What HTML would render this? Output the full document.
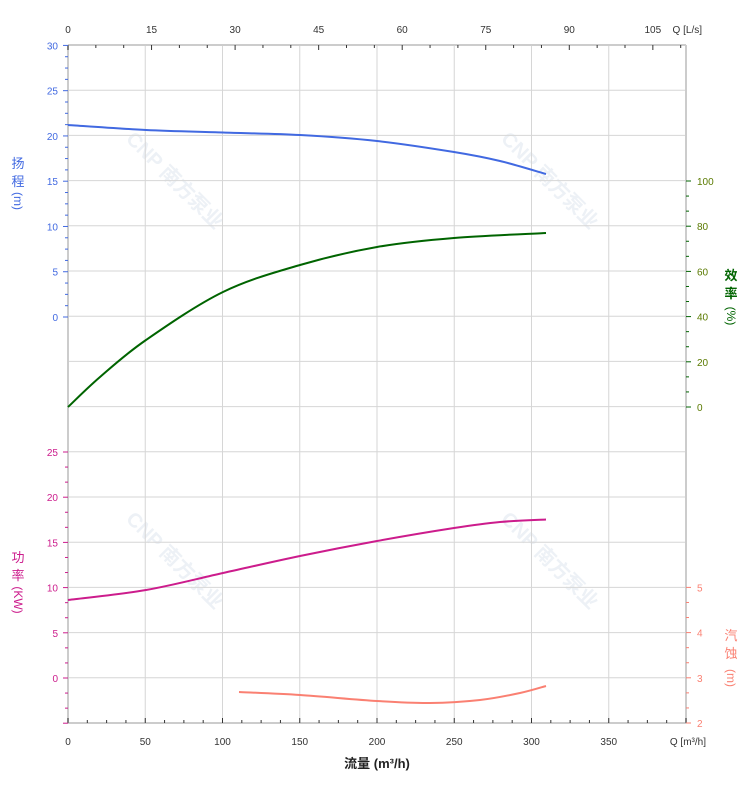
<!DOCTYPE html>
<html><head><meta charset="utf-8">
<style>
html,body{margin:0;padding:0;background:#fff;}
svg{display:block;font-family:"Liberation Sans","Noto Sans CJK SC",sans-serif;}
</style></head>
<body>
<svg id="s" width="752" height="797" viewBox="0 0 752 797"></svg>
<script>
const s=document.getElementById('s');let h='';
const L=68,R=686,T=45,B=723,st=45.2;
function wm(x,y){h+=`<g transform="translate(${x},${y}) rotate(45)" fill="#edf1f6" font-size="20" font-weight="bold"><text x="0" y="0">CNP 南方泵业</text></g>`;}
wm(125,140);wm(500,140);wm(125,520);wm(500,520);
for(let i=0;i<=15;i++){const y=T+i*st;h+=`<line x1="${L}" x2="${R}" y1="${y}" y2="${y}" stroke="#d6d6d6" stroke-width="1"/>`;}
const px=77.25;
for(let i=0;i<=8;i++){const x=L+i*px;h+=`<line x1="${x}" x2="${x}" y1="${T}" y2="${B}" stroke="#d6d6d6" stroke-width="1"/>`;}
h+=`<line x1="${L}" x2="${L}" y1="${T}" y2="${B}" stroke="#ccc" stroke-width="2"/>`;
h+=`<line x1="${R}" x2="${R}" y1="${T}" y2="${B}" stroke="#ccc" stroke-width="2"/>`;
h+=`<line x1="${L}" x2="${R}" y1="${T}" y2="${T}" stroke="#ccc" stroke-width="2"/>`;
h+=`<line x1="${L}" x2="${R}" y1="${B}" y2="${B}" stroke="#ccc" stroke-width="2"/>`;
for(let i=0;i<=7;i++){const x=L+i*px;h+=`<text x="${x}" y="745" font-size="10" text-anchor="middle" fill="#333">${i*50}</text>`;}
for(let i=0;i<=32;i++){const x=L+i*px/4;h+=`<line x1="${x}" x2="${x}" y1="${B}" y2="${B-(i%4==0?5:3)}" stroke="#333"/>`;}
h+=`<text x="706" y="745" font-size="10" text-anchor="end" fill="#333">Q [m³/h]</text>`;
h+=`<text x="377" y="768" font-size="13" font-weight="bold" text-anchor="middle" fill="#222">流量 (m³/h)</text>`;
const pq=5.57;
for(let i=0;i<=7;i++){const x=L+i*15*pq;h+=`<text x="${x}" y="33" font-size="10" text-anchor="middle" fill="#333">${i*15}</text>`;}
for(let i=0;i<=33;i++){const x=L+i*5*pq;if(x>R)break;h+=`<line x1="${x}" x2="${x}" y1="${T}" y2="${T+(i%3==0?5:3)}" stroke="#333"/>`;}
h+=`<text x="702" y="33" font-size="10" text-anchor="end" fill="#333">Q [L/s]</text>`;
const cH='#4169e1';
for(let i=0;i<=24;i++){const v=i*1.25;const y=317-v*9.053;const maj=i%4==0;h+=`<line x1="${L-(maj?5:3)}" x2="${L}" y1="${y}" y2="${y}" stroke="${cH}"/>`;if(maj)h+=`<text x="58" y="${y+4}" font-size="10" text-anchor="end" fill="${cH}">${v}</text>`;}
h+=`<text x="18" y="168" font-size="13" fill="${cH}" text-anchor="middle">扬</text><text x="18" y="186" font-size="13" fill="${cH}" text-anchor="middle">程</text><text x="18" y="205" font-size="12" fill="${cH}" text-anchor="middle" transform="rotate(90 18 201)">(m)</text>`;
const cP='#cc1c8c';
for(let i=-3;i<=15;i++){const v=i*5/3;const y=678-v*9.04;const maj=i%3==0;h+=`<line x1="${L-(maj?5:3)}" x2="${L}" y1="${y}" y2="${y}" stroke="${cP}"/>`;if(maj&&v>=0)h+=`<text x="58" y="${y+4}" font-size="10" text-anchor="end" fill="${cP}">${Math.round(v)}</text>`;}
h+=`<text x="18" y="562" font-size="13" fill="${cP}" text-anchor="middle">功</text><text x="18" y="580" font-size="13" fill="${cP}" text-anchor="middle">率</text><text x="18" y="604" font-size="12" fill="${cP}" text-anchor="middle" transform="rotate(90 18 600)">(KW)</text>`;
const cE='#006400';
for(let i=0;i<=15;i++){const v=i*20/3;const y=407-v*2.26;const maj=i%3==0;h+=`<line x1="${R}" x2="${R+(maj?5:3)}" y1="${y}" y2="${y}" stroke="${cE}"/>`;if(maj)h+=`<text x="697" y="${y+4}" font-size="10" fill="#5a7a00">${Math.round(v)}</text>`;}
h+=`<text x="731" y="280" font-size="13" font-weight="bold" fill="${cE}" text-anchor="middle">效</text><text x="731" y="298" font-size="13" font-weight="bold" fill="${cE}" text-anchor="middle">率</text><text x="731" y="320" font-size="12" fill="${cE}" text-anchor="middle" transform="rotate(90 731 316)">(%)</text>`;
const cN='#fa8072';
for(let i=0;i<=9;i++){const y=723-i*st/3;const maj=i%3==0;h+=`<line x1="${R}" x2="${R+(maj?5:3)}" y1="${y}" y2="${y}" stroke="${cN}"/>`;if(maj)h+=`<text x="697" y="${y+4}" font-size="10" fill="${cN}">${2+i/3}</text>`;}
h+=`<text x="731" y="640" font-size="13" fill="${cN}" text-anchor="middle">汽</text><text x="731" y="658" font-size="13" fill="${cN}" text-anchor="middle">蚀</text><text x="731" y="682" font-size="12" fill="${cN}" text-anchor="middle" transform="rotate(90 731 678)">(m)</text>`;
function cv(pts,c){let d='M'+pts[0].join(',');for(let i=1;i<pts.length;i++){const p0=pts[Math.max(0,i-2)],p1=pts[i-1],p2=pts[i],p3=pts[Math.min(pts.length-1,i+1)];d+=` C${p1[0]+(p2[0]-p0[0])/6},${p1[1]+(p2[1]-p0[1])/6} ${p2[0]-(p3[0]-p1[0])/6},${p2[1]-(p3[1]-p1[1])/6} ${p2[0]},${p2[1]}`;}h+=`<path d="${d}" fill="none" stroke="${c}" stroke-width="2"/>`;}
cv([[68,125],[146,130],[223,132.5],[300,135],[377,141],[454,152],[500,161],[546,174]],cH);
cv([[68,407],[100,377],[146,340],[223,292],[300,265],[377,247],[454,238],[546,233]],cE);
cv([[68,600],[146,590],[223,573],[300,556],[377,541],[454,528],[500,522],[546,519.5]],cP);
cv([[239,692],[300,695],[377,701],[430,703],[480,700],[520,693],[546,686]],cN);
s.innerHTML=h;
</script>
</body></html>
